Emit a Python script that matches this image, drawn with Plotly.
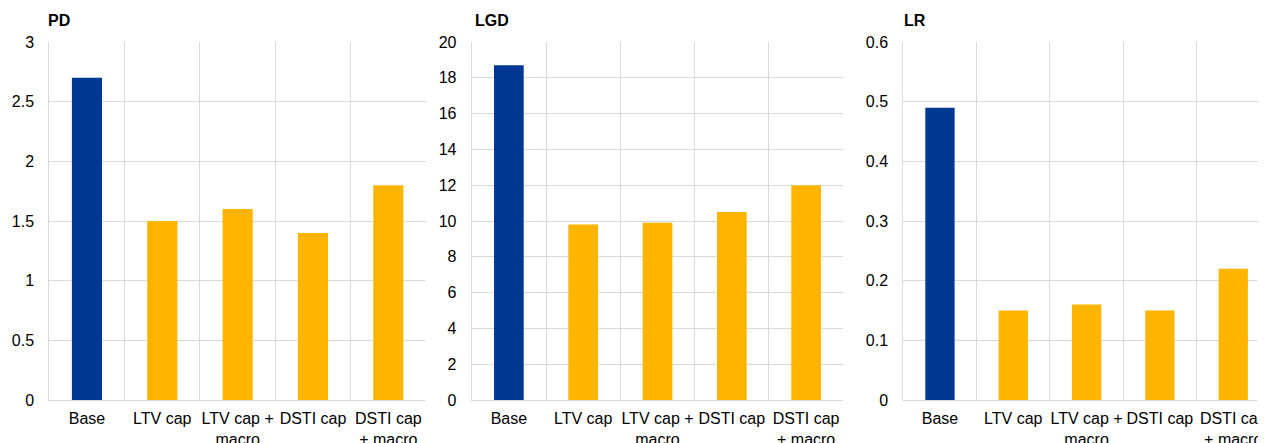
import plotly.graph_objects as go

categories = ["Base", "LTV cap", "LTV cap +<br>macro", "DSTI cap", "DSTI cap<br>+ macro"]
pd_values = [2.7, 1.5, 1.6, 1.4, 1.8]
lgd_values = [18.7, 9.8, 9.9, 10.5, 12.0]
lr_values = [0.49, 0.15, 0.16, 0.15, 0.22]
panel_titles = ["PD", "LGD", "LR"]
y_ranges = [[0, 3], [0, 20], [0, 0.6]]
y_dticks = [0.5, 2, 0.1]

OFF = 8  # page body margin
W, H = 1266 - OFF, 443 - OFF
bar_colors = ["#003894"] + ["#ffb400"] * 4
grid = "#d9d9d9"
font_family = "Arial, Liberation Sans, sans-serif"


def px(x):
    return (x - OFF) / W


def py(y):
    return 1 - (y - OFF) / H


fig = go.Figure()

x_domains = [[px(49.3), px(426.0)], [px(471.7), px(843.3)], [px(903.3), 1.0]]
x_ranges = [[-0.5, 4.5], [-0.5, 4.5], [-0.5, 4.447]]
series = [pd_values, lgd_values, lr_values]

for i in range(3):
    xa = "x" if i == 0 else f"x{i+1}"
    ya = "y" if i == 0 else f"y{i+1}"
    fig.add_trace(go.Bar(
        x=categories, y=series[i], xaxis=xa, yaxis=ya,
        marker=dict(color=bar_colors, line=dict(width=0)),
        width=0.4, showlegend=False, hoverinfo="x+y",
    ))
    xkey = "xaxis" if i == 0 else f"xaxis{i+1}"
    ykey = "yaxis" if i == 0 else f"yaxis{i+1}"
    fig.layout[xkey] = dict(
        domain=x_domains[i], anchor=ya, type="category",
        range=x_ranges[i], tickson="boundaries",
        showgrid=True, gridcolor=grid, gridwidth=1,
        showline=True, linecolor=grid, linewidth=1,
        ticks="", tickangle=0, automargin=False, ticklabelstandoff=4,
        tickfont=dict(size=16, color="#000000", family=font_family),
        fixedrange=True,
    )
    fig.layout[ykey] = dict(
        domain=[py(400), py(42)], anchor=xa,
        range=y_ranges[i], dtick=y_dticks[i], tick0=0,
        showgrid=True, gridcolor=grid, gridwidth=1,
        showline=True, linecolor=grid, linewidth=1,
        zeroline=False, ticks="", ticklabelstandoff=11, automargin=False,
        tickfont=dict(size=16, color="#000000", family=font_family),
        fixedrange=True,
    )
    fig.add_annotation(
        text=f"<b>{panel_titles[i]}</b>", xref="paper", yref="paper",
        x=[px(46), px(473), px(902)][i], y=py(21),
        xanchor="left", yanchor="middle", showarrow=False,
        font=dict(size=16, color="#000000", family=font_family),
    )

fig.update_layout(
    width=W, height=H,
    margin=dict(l=0, r=0, t=0, b=0, autoexpand=False),
    paper_bgcolor="white", plot_bgcolor="white",
    font=dict(family=font_family, size=16, color="#000000"),
    bargap=0.6,
)

fig.write_html("out.html")
